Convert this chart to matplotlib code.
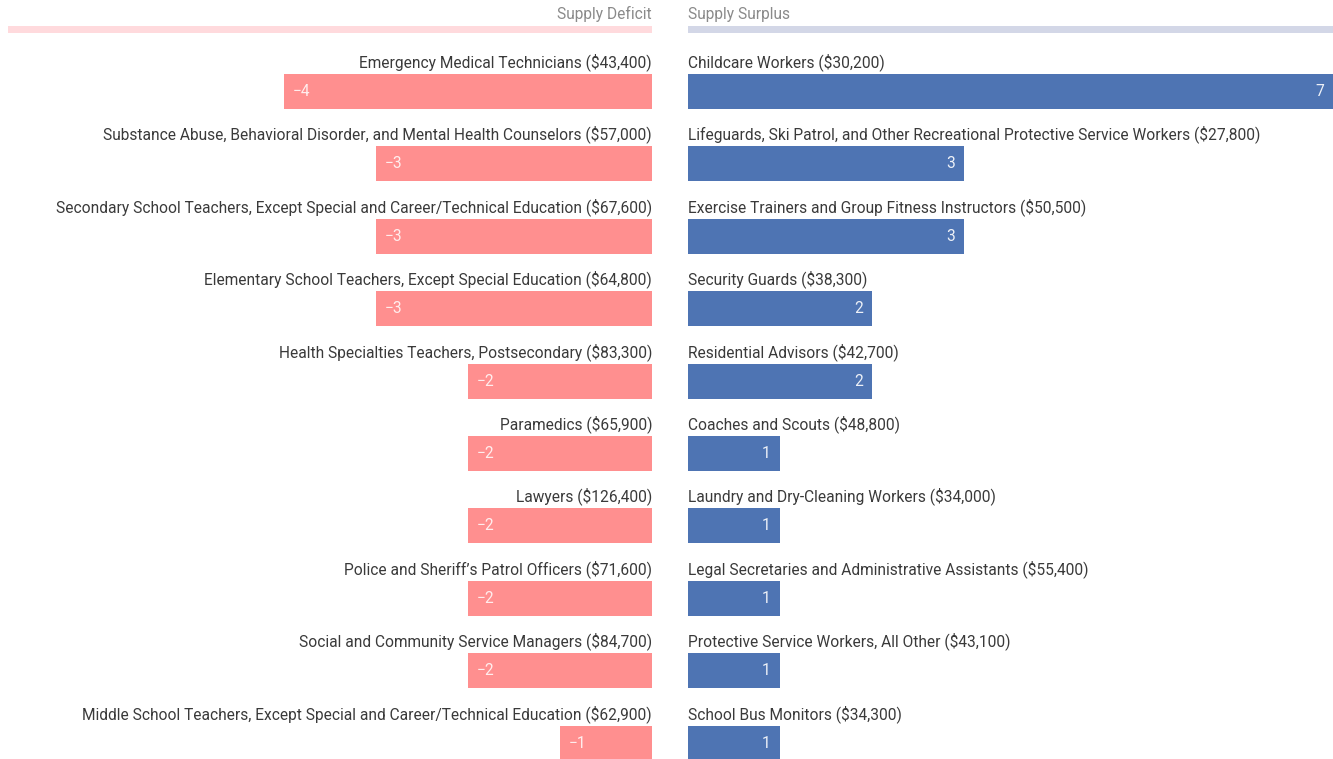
import matplotlib
matplotlib.use("Agg")
import matplotlib.pyplot as plt

# Data
deficit_jobs = [
    "Emergency Medical Technicians ($43,400)",
    "Substance Abuse, Behavioral Disorder, and Mental Health Counselors ($57,000)",
    "Secondary School Teachers, Except Special and Career/Technical Education ($67,600)",
    "Elementary School Teachers, Except Special Education ($64,800)",
    "Health Specialties Teachers, Postsecondary ($83,300)",
    "Paramedics ($65,900)",
    "Lawyers ($126,400)",
    "Police and Sheriff\u2019s Patrol Officers ($71,600)",
    "Social and Community Service Managers ($84,700)",
    "Middle School Teachers, Except Special and Career/Technical Education ($62,900)",
]
deficit_values = [-4, -3, -3, -3, -2, -2, -2, -2, -2, -1]

surplus_jobs = [
    "Childcare Workers ($30,200)",
    "Lifeguards, Ski Patrol, and Other Recreational Protective Service Workers ($27,800)",
    "Exercise Trainers and Group Fitness Instructors ($50,500)",
    "Security Guards ($38,300)",
    "Residential Advisors ($42,700)",
    "Coaches and Scouts ($48,800)",
    "Laundry and Dry-Cleaning Workers ($34,000)",
    "Legal Secretaries and Administrative Assistants ($55,400)",
    "Protective Service Workers, All Other ($43,100)",
    "School Bus Monitors ($34,300)",
]
surplus_values = [7, 3, 3, 2, 2, 1, 1, 1, 1, 1]

plt.rcParams['font.family'] = ['Roboto', 'DejaVu Sans']

W, H = 1333, 759
fig = plt.figure(figsize=(W / 100, H / 100), dpi=100)

RED = '#ff8f8f'
BLUE = '#4e74b3'
RED_LIGHT = '#ffdadd'
BLUE_LIGHT = '#d3d7e7'
TEXT = '#3a3a3a'
GREY = '#8a8a8a'

# row geometry (pixels): row pitch 72.4, first bar centre at 91.5
pitch = 72.4
c0 = 91.5
ylo = (0 - c0) / pitch
yhi = (H - c0) / pitch
bar_h = 35 / pitch
label_off = -29.5 / pitch
head_text = (14 - c0) / pitch
head_bar = (29.5 - c0) / pitch
head_h = 7 / pitch

axL = fig.add_axes([8 / W, 0, (652 - 8) / W, 1])
axR = fig.add_axes([688 / W, 0, (W - 688) / W, 1])

for ax in (axL, axR):
    ax.set_ylim(yhi, ylo)
    ax.axis('off')
axL.set_xlim(-7, 0)
axR.set_xlim(0, 7)

fs = 11.2

# headers
axL.barh(head_bar, -7, height=head_h, color=RED_LIGHT)
axR.barh(head_bar, 7, height=head_h, color=BLUE_LIGHT)
axL.text(0, head_text, "Supply Deficit", ha='right', va='center', fontsize=fs, color=GREY)
axR.text(0, head_text, "Supply Surplus", ha='left', va='center', fontsize=fs, color=GREY)

rows = list(range(len(deficit_values)))

axL.barh(rows, deficit_values, height=bar_h, color=RED)
axR.barh(rows, surplus_values, height=bar_h, color=BLUE)

for i, (name, v) in enumerate(zip(deficit_jobs, deficit_values)):
    axL.text(0, i + label_off, name, ha='right', va='center', fontsize=fs, color=TEXT)
    axL.text(v + 0.1, i, f"\u2212{abs(v)}", ha='left', va='center', fontsize=fs,
             color='white', alpha=0.85)

for i, (name, v) in enumerate(zip(surplus_jobs, surplus_values)):
    axR.text(0, i + label_off, name, ha='left', va='center', fontsize=fs, color=TEXT)
    axR.text(v - 0.1, i, f"{v}", ha='right', va='center', fontsize=fs,
             color='white', alpha=0.9)

fig.savefig("out.png", dpi=100, facecolor='white')
